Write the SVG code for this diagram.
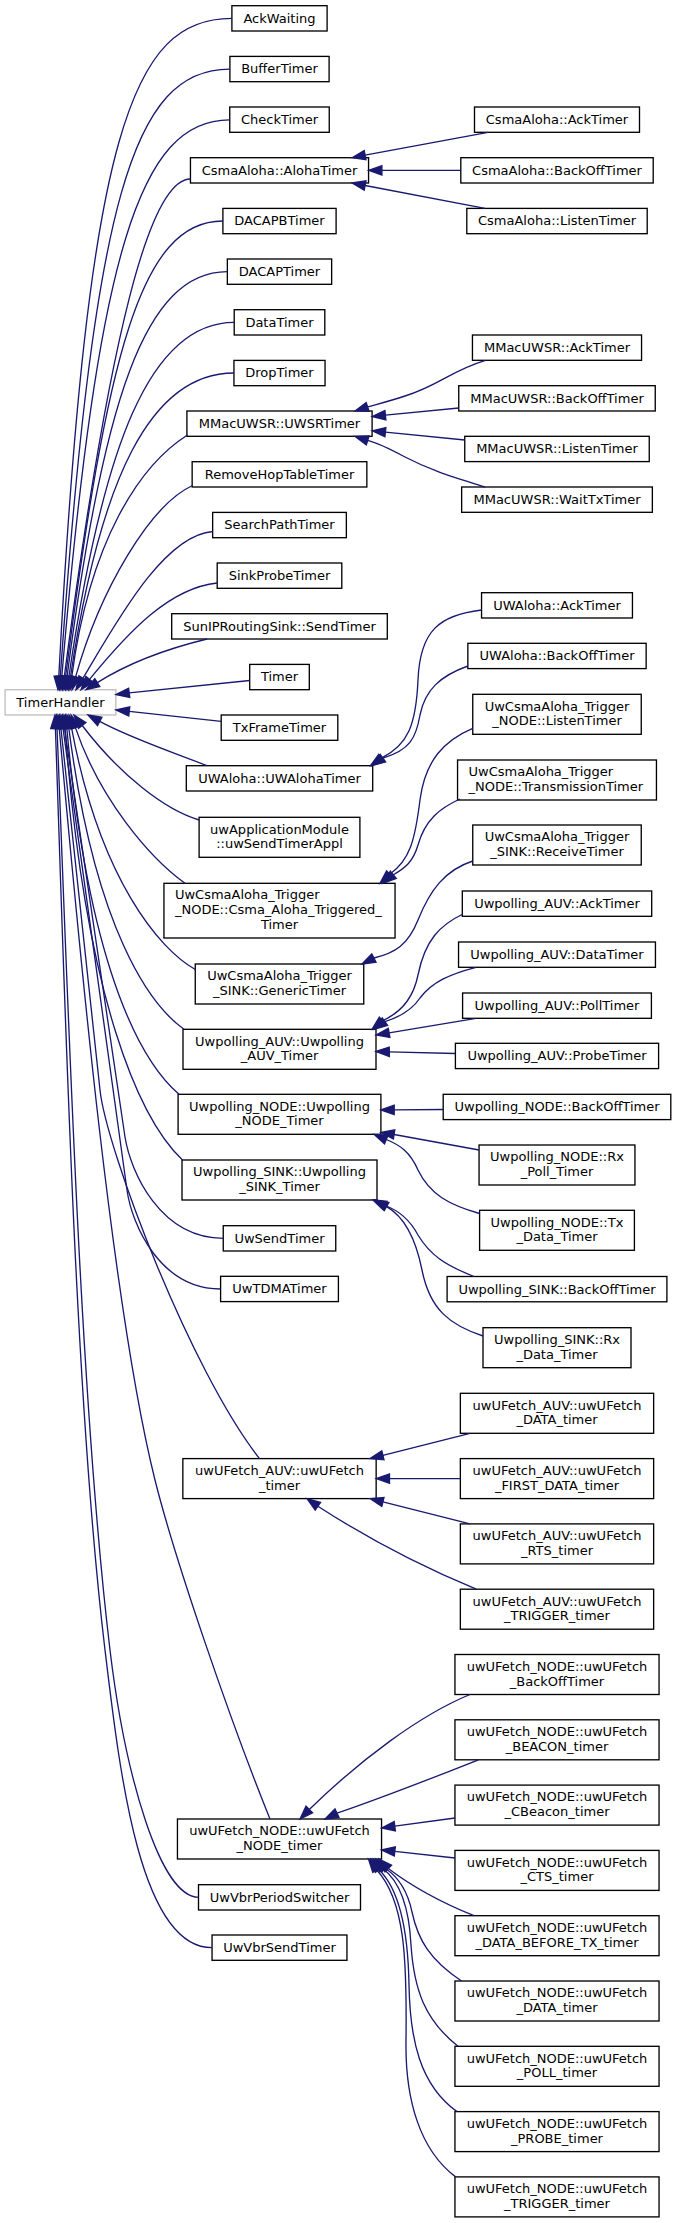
<svg xmlns="http://www.w3.org/2000/svg" width="677" height="2223" viewBox="0 0 677 2223">
<style>
.n rect{fill:#fff;stroke:#000;stroke-width:1.33}
#n_timerhandler rect{stroke:#bfbfbf}
text{font-family:"DejaVu Sans","Liberation Sans",sans-serif;font-size:13px;fill:#000;text-anchor:middle}
text.l{text-anchor:start}
.e path{fill:none;stroke:#191970;stroke-width:1.33}
.e polygon{fill:#191970;stroke:#191970;stroke-width:1.33}
</style>
<rect width="677" height="2223" fill="#fff"/>
<g id="nodes">
<g id="n_timerhandler" class="n"><rect x="5.1" y="689.7" width="110.75" height="25.3"/><text x="60.5" y="706.7">TimerHandler</text></g>
<g id="n_ackwaiting" class="n"><rect x="231.9" y="5.7" width="95.2" height="25.3"/><text x="279.5" y="22.7">AckWaiting</text></g>
<g id="n_buffertimer" class="n"><rect x="229.9" y="56.4" width="99.2" height="25.3"/><text x="279.5" y="73.4">BufferTimer</text></g>
<g id="n_checktimer" class="n"><rect x="229.75" y="107" width="99.5" height="25.3"/><text x="279.5" y="124">CheckTimer</text></g>
<g id="n_alohatimer" class="n"><rect x="190.45" y="157.7" width="178.1" height="25.3"/><text x="279.5" y="174.7">CsmaAloha::AlohaTimer</text></g>
<g id="n_dacapbtimer" class="n"><rect x="222.9" y="208.4" width="113.2" height="25.3"/><text x="279.5" y="225.4">DACAPBTimer</text></g>
<g id="n_dacaptimer" class="n"><rect x="227.35" y="259" width="104.3" height="25.3"/><text x="279.5" y="276">DACAPTimer</text></g>
<g id="n_datatimer" class="n"><rect x="234.2" y="309.7" width="90.6" height="25.3"/><text x="279.5" y="326.7">DataTimer</text></g>
<g id="n_droptimer" class="n"><rect x="233.95" y="360.4" width="91.1" height="25.3"/><text x="279.5" y="377.4">DropTimer</text></g>
<g id="n_uwsrtimer" class="n"><rect x="186.9" y="411" width="185.2" height="25.3"/><text x="279.5" y="428">MMacUWSR::UWSRTimer</text></g>
<g id="n_removehop" class="n"><rect x="192.15" y="461.7" width="174.7" height="25.3"/><text x="279.5" y="478.7">RemoveHopTableTimer</text></g>
<g id="n_searchpath" class="n"><rect x="212.65" y="512.4" width="133.7" height="25.3"/><text x="279.5" y="529.4">SearchPathTimer</text></g>
<g id="n_sinkprobe" class="n"><rect x="217.2" y="563" width="124.6" height="25.3"/><text x="279.5" y="580">SinkProbeTimer</text></g>
<g id="n_sunip" class="n"><rect x="171.7" y="613.7" width="215.6" height="25.3"/><text x="279.5" y="630.7">SunIPRoutingSink::SendTimer</text></g>
<g id="n_timer" class="n"><rect x="249.7" y="664.4" width="59.6" height="25.3"/><text x="279.5" y="681.4">Timer</text></g>
<g id="n_txframe" class="n"><rect x="221.2" y="715" width="116.6" height="25.3"/><text x="279.5" y="732">TxFrameTimer</text></g>
<g id="n_uwaloha" class="n"><rect x="186.3" y="765.7" width="186.4" height="25.3"/><text x="279.5" y="782.7">UWAloha::UWAlohaTimer</text></g>
<g id="n_uwappl" class="n"><rect x="199.1" y="817.3" width="160.8" height="40"/><text x="279.5" y="833.6">uwApplicationModule</text><text x="279.5" y="848.3">::uwSendTimerAppl</text></g>
<g id="n_csmatrig" class="n"><rect x="163.95" y="883.3" width="231.1" height="54.7"/><text class="l" x="174.95" y="899.3">UwCsmaAloha_Trigger</text><text class="l" x="174.95" y="914">_NODE::Csma_Aloha_Triggered_</text><text x="279.5" y="928.7">Timer</text></g>
<g id="n_generic" class="n"><rect x="195.25" y="964" width="168.5" height="40"/><text x="279.5" y="980.3">UwCsmaAloha_Trigger</text><text x="279.5" y="995">_SINK::GenericTimer</text></g>
<g id="n_upauv" class="n"><rect x="183" y="1029.3" width="193" height="40"/><text x="279.5" y="1045.6">Uwpolling_AUV::Uwpolling</text><text x="279.5" y="1060.3">_AUV_Timer</text></g>
<g id="n_upnode" class="n"><rect x="178.1" y="1094.3" width="202.8" height="40"/><text x="279.5" y="1110.6">Uwpolling_NODE::Uwpolling</text><text x="279.5" y="1125.3">_NODE_Timer</text></g>
<g id="n_upsink" class="n"><rect x="182" y="1160" width="195" height="40"/><text x="279.5" y="1176.3">Uwpolling_SINK::Uwpolling</text><text x="279.5" y="1191">_SINK_Timer</text></g>
<g id="n_uwsend" class="n"><rect x="223.25" y="1225.7" width="112.5" height="25.3"/><text x="279.5" y="1242.7">UwSendTimer</text></g>
<g id="n_uwtdma" class="n"><rect x="220.6" y="1276.3" width="117.8" height="25.3"/><text x="279.5" y="1293.3">UwTDMATimer</text></g>
<g id="n_ufauv" class="n"><rect x="182.85" y="1458.6" width="193.3" height="40"/><text x="279.5" y="1474.9">uwUFetch_AUV::uwUFetch</text><text x="279.5" y="1489.6">_timer</text></g>
<g id="n_ufnode" class="n"><rect x="177.45" y="1819" width="204.1" height="40"/><text x="279.5" y="1835.3">uwUFetch_NODE::uwUFetch</text><text x="279.5" y="1850">_NODE_timer</text></g>
<g id="n_vbrperiod" class="n"><rect x="198.5" y="1884.7" width="162" height="25.3"/><text x="279.5" y="1901.7">UwVbrPeriodSwitcher</text></g>
<g id="n_vbrsend" class="n"><rect x="212.05" y="1935" width="134.9" height="25.3"/><text x="279.5" y="1952">UwVbrSendTimer</text></g>

<g id="n_ca_ack" class="n"><rect x="474.5" y="107" width="165" height="25.3"/><text x="557" y="124">CsmaAloha::AckTimer</text></g>
<g id="n_ca_backoff" class="n"><rect x="460.8" y="157.7" width="192.4" height="25.3"/><text x="557" y="174.7">CsmaAloha::BackOffTimer</text></g>
<g id="n_ca_listen" class="n"><rect x="466.8" y="208.4" width="180.4" height="25.3"/><text x="557" y="225.4">CsmaAloha::ListenTimer</text></g>
<g id="n_mm_ack" class="n"><rect x="472.45" y="335" width="169.1" height="25.3"/><text x="557" y="352">MMacUWSR::AckTimer</text></g>
<g id="n_mm_backoff" class="n"><rect x="458.75" y="385.7" width="196.5" height="25.3"/><text x="557" y="402.7">MMacUWSR::BackOffTimer</text></g>
<g id="n_mm_listen" class="n"><rect x="464.75" y="436.3" width="184.5" height="25.3"/><text x="557" y="453.3">MMacUWSR::ListenTimer</text></g>
<g id="n_mm_waittx" class="n"><rect x="461.65" y="487" width="190.7" height="25.3"/><text x="557" y="504">MMacUWSR::WaitTxTimer</text></g>
<g id="n_ua_ack" class="n"><rect x="481.55" y="592.7" width="150.9" height="25.3"/><text x="557" y="609.7">UWAloha::AckTimer</text></g>
<g id="n_ua_backoff" class="n"><rect x="467.85" y="643.3" width="178.3" height="25.3"/><text x="557" y="660.3">UWAloha::BackOffTimer</text></g>
<g id="n_ct_listen" class="n"><rect x="472.75" y="694.3" width="168.5" height="40"/><text x="557" y="710.6">UwCsmaAloha_Trigger</text><text x="557" y="725.3">_NODE::ListenTimer</text></g>
<g id="n_ct_trans" class="n"><rect x="457.55" y="760" width="198.9" height="40"/><text class="l" x="468.55" y="776.3">UwCsmaAloha_Trigger</text><text class="l" x="468.55" y="791">_NODE::TransmissionTimer</text></g>
<g id="n_ct_receive" class="n"><rect x="472.75" y="825" width="168.5" height="40"/><text x="557" y="841.3">UwCsmaAloha_Trigger</text><text x="557" y="856">_SINK::ReceiveTimer</text></g>
<g id="n_pa_ack" class="n"><rect x="462.3" y="891" width="189.4" height="25.3"/><text x="557" y="908">Uwpolling_AUV::AckTimer</text></g>
<g id="n_pa_data" class="n"><rect x="458.55" y="942" width="196.9" height="25.3"/><text x="557" y="959">Uwpolling_AUV::DataTimer</text></g>
<g id="n_pa_poll" class="n"><rect x="462.6" y="993" width="188.8" height="25.3"/><text x="557" y="1010">Uwpolling_AUV::PollTimer</text></g>
<g id="n_pa_probe" class="n"><rect x="455.4" y="1043.3" width="203.2" height="25.3"/><text x="557" y="1060.3">Uwpolling_AUV::ProbeTimer</text></g>
<g id="n_pn_backoff" class="n"><rect x="443.2" y="1094.3" width="227.6" height="25.3"/><text x="557" y="1111.3">Uwpolling_NODE::BackOffTimer</text></g>
<g id="n_pn_rxpoll" class="n"><rect x="479.05" y="1145" width="155.9" height="40"/><text x="557" y="1161.3">Uwpolling_NODE::Rx</text><text x="557" y="1176">_Poll_Timer</text></g>
<g id="n_pn_txdata" class="n"><rect x="479.6" y="1210.3" width="154.8" height="40"/><text x="557" y="1226.6">Uwpolling_NODE::Tx</text><text x="557" y="1241.3">_Data_Timer</text></g>
<g id="n_ps_backoff" class="n"><rect x="447.1" y="1276.5" width="219.8" height="25.3"/><text x="557" y="1293.5">Uwpolling_SINK::BackOffTimer</text></g>
<g id="n_ps_rxdata" class="n"><rect x="483" y="1327.7" width="148" height="40"/><text x="557" y="1344">Uwpolling_SINK::Rx</text><text x="557" y="1358.7">_Data_Timer</text></g>
<g id="n_fa_data" class="n"><rect x="460.35" y="1393.3" width="193.3" height="40"/><text x="557" y="1409.6">uwUFetch_AUV::uwUFetch</text><text x="557" y="1424.3">_DATA_timer</text></g>
<g id="n_fa_first" class="n"><rect x="460.35" y="1458.6" width="193.3" height="40"/><text x="557" y="1474.9">uwUFetch_AUV::uwUFetch</text><text x="557" y="1489.6">_FIRST_DATA_timer</text></g>
<g id="n_fa_rts" class="n"><rect x="460.35" y="1523.9" width="193.3" height="40"/><text x="557" y="1540.2">uwUFetch_AUV::uwUFetch</text><text x="557" y="1554.9">_RTS_timer</text></g>
<g id="n_fa_trigger" class="n"><rect x="460.35" y="1589.2" width="193.3" height="40"/><text x="557" y="1605.5">uwUFetch_AUV::uwUFetch</text><text x="557" y="1620.2">_TRIGGER_timer</text></g>
<g id="n_fn_backoff" class="n"><rect x="454.95" y="1654.5" width="204.1" height="40"/><text x="557" y="1670.8">uwUFetch_NODE::uwUFetch</text><text x="557" y="1685.5">_BackOffTimer</text></g>
<g id="n_fn_beacon" class="n"><rect x="454.95" y="1719.8" width="204.1" height="40"/><text x="557" y="1736.1">uwUFetch_NODE::uwUFetch</text><text x="557" y="1750.8">_BEACON_timer</text></g>
<g id="n_fn_cbeacon" class="n"><rect x="454.95" y="1785.1" width="204.1" height="40"/><text x="557" y="1801.4">uwUFetch_NODE::uwUFetch</text><text x="557" y="1816.1">_CBeacon_timer</text></g>
<g id="n_fn_cts" class="n"><rect x="454.95" y="1850.4" width="204.1" height="40"/><text x="557" y="1866.7">uwUFetch_NODE::uwUFetch</text><text x="557" y="1881.4">_CTS_timer</text></g>
<g id="n_fn_databtx" class="n"><rect x="454.95" y="1915.7" width="204.1" height="40"/><text x="557" y="1932">uwUFetch_NODE::uwUFetch</text><text x="557" y="1946.7">_DATA_BEFORE_TX_timer</text></g>
<g id="n_fn_data" class="n"><rect x="454.95" y="1981" width="204.1" height="40"/><text x="557" y="1997.3">uwUFetch_NODE::uwUFetch</text><text x="557" y="2012">_DATA_timer</text></g>
<g id="n_fn_poll" class="n"><rect x="454.95" y="2046.3" width="204.1" height="40"/><text x="557" y="2062.6">uwUFetch_NODE::uwUFetch</text><text x="557" y="2077.3">_POLL_timer</text></g>
<g id="n_fn_probe" class="n"><rect x="454.95" y="2111.6" width="204.1" height="40"/><text x="557" y="2127.9">uwUFetch_NODE::uwUFetch</text><text x="557" y="2142.6">_PROBE_timer</text></g>
<g id="n_fn_trigger" class="n"><rect x="454.95" y="2176.9" width="204.1" height="40"/><text x="557" y="2193.2">uwUFetch_NODE::uwUFetch</text><text x="557" y="2207.9">_TRIGGER_timer</text></g>
</g>
<g id="edges" class="e">
<path d="M232,18.4 C132,18.4 88,130 58.8,676.4"/><polygon points="58,689.7 54.1,676.1 63.5,676.7"/>
<path d="M229.9,69.1 C132,69.1 94,200 60.3,676.4"/><polygon points="59.5,689.7 55.6,676.1 65,676.7"/>
<path d="M229.8,119.8 C140,119.8 98,250 61.8,676.4"/><polygon points="61,689.7 57.1,676.1 66.5,676.7"/>
<path d="M190.5,179 C150,179 110,330 64.3,676.5"/><polygon points="62.5,689.7 59.7,675.9 68.9,677.1"/>
<path d="M222.9,221 C140,221 107,355 65.6,676.5"/><polygon points="64,689.7 61,675.9 70.2,677.1"/>
<path d="M227.4,271.7 C145,271.7 103,400 67.1,676.5"/><polygon points="65.5,689.7 62.5,675.9 71.7,677.1"/>
<path d="M234.2,322.3 C150,322.3 103,445 68.9,676.5"/><polygon points="67,689.7 64.3,675.8 73.5,677.2"/>
<path d="M234,373 C150,373 100,480 70.5,676.5"/><polygon points="68.5,689.7 65.9,675.8 75.1,677.2"/>
<path d="M187.5,435 C140,465 90,540 71.8,676.5"/><polygon points="70,689.7 67.2,675.9 76.4,677.1"/>
<path d="M192.5,485.5 C150,505 100,590 75.6,676.9"/><polygon points="72,689.7 71.1,675.6 80.1,678.2"/>
<path d="M213,531.5 C163,535 115,625 82.9,678.3"/><polygon points="76,689.7 78.9,675.9 86.9,680.7"/>
<path d="M217.2,583 C170,588 130,630 89.5,679.4"/><polygon points="81,689.7 85.9,676.4 93.1,682.4"/>
<path d="M207,639 C170,648 130,662 97.3,682.6"/><polygon points="86,689.7 94.8,678.6 99.8,686.6"/>
<path d="M249.7,680.5 L129.2,692.8"/><polygon points="116,694.5 129.8,697.4 128.6,688.2"/>
<path d="M221.2,721.3 L129.25,711.4"/><polygon points="116,710 129.75,706.8 128.75,716"/>
<path d="M207,765.7 C175,753 130,738 99.7,721.4"/><polygon points="88,715 101.9,717.3 97.5,725.5"/>
<path d="M199.1,820 C165,810 120,775 82.2,725.5"/><polygon points="74,715 85.9,722.6 78.5,728.4"/>
<path d="M185,883.3 C150,858 100,800 75.4,727.6"/><polygon points="71,715 79.8,726 71,729.2"/>
<path d="M195.3,969.5 C160,950 100,880 71.6,728.1"/><polygon points="69,715 76.2,727.2 67,729"/>
<path d="M184,1029.3 C150,1005 95,930 68.8,728.2"/><polygon points="67,715 73.4,727.6 64.2,728.8"/>
<path d="M179,1094.3 C145,1065 90,980 66.8,728.3"/><polygon points="65.5,715 71.4,727.8 62.2,728.8"/>
<path d="M182.5,1160 C140,1120 85,1000 65.1,728.3"/><polygon points="64,715 69.8,727.9 60.4,728.7"/>
<path d="M64.5,728.2 L125,1137 C130.5,1171.6 160,1238.3 223.3,1238.3"/><polygon points="62.5,715 69.1,727.5 59.9,728.9"/>
<path d="M63,728.2 L127,1190 C131.8,1224.7 160,1289 220.6,1289"/><polygon points="61,715 67.6,727.5 58.4,728.9"/>
<path d="M60.9,728.3 L100,1090 C106.4,1149.6 190,1370 259.5,1458.6"/><polygon points="59.5,715 65.5,727.8 56.3,728.8"/>
<path d="M59.2,728.3 C75,900 110,1300 155,1480 C175,1560 230,1720 270,1819"/><polygon points="58,715 63.9,727.9 54.5,728.7"/>
<path d="M57,728.3 C68,1000 80,1400 110,1650 C125,1775 160,1897.3 198.5,1897.3"/><polygon points="56.5,715 61.7,728.1 52.3,728.5"/>
<path d="M55.4,728.3 C65,1000 75,1400 105,1650 C120,1775 140,1947.7 212,1947.7"/><polygon points="55,715 60.1,728.1 50.7,728.5"/>

<path d="M488,132.3 L365.1,155.2"/><polygon points="352,157.7 364.2,150.6 366,159.8"/>
<path d="M460.8,170.35 L381.9,170.35"/><polygon points="368.55,170.35 381.9,165.7 381.9,175"/>
<path d="M485,208.4 L365.1,185.5"/><polygon points="352,183 366,180.9 364.2,190.1"/>

<path d="M485.5,360.3 C450,371 440,385 405,396 C390,401 378,404 367.7,406.9"/><polygon points="355,411 366.2,402.5 369.1,411.3"/>
<path d="M458.75,408 L385.4,415.2"/><polygon points="372.1,416.5 384.9,410.6 385.9,419.8"/>
<path d="M464.75,440 L385.4,432.1"/><polygon points="372.1,430.8 385.9,427.5 384.9,436.7"/>
<path d="M485,487 C450,476 430,470 405,457 C390,449 378,443 367.7,440.4"/><polygon points="355,436.3 369.1,436 366.3,444.8"/>

<path d="M481.55,610 C440,615 420,630 418,680 C416,725 408,745 381.4,758.1"/><polygon points="370.5,765.7 378.7,754.3 384.1,761.9"/>
<path d="M467.85,666 C440,676 425,690 420,715 C416,738 410,750 382.9,758.1"/><polygon points="372,765.7 380.2,754.3 385.6,761.9"/>

<path d="M472.75,728.3 C445,740 425,760 420,800 C415,840 410,860 389.8,874.2"/><polygon points="380,883.3 386.6,870.8 393,877.6"/>
<path d="M460,799 C440,808 425,820 418,845 C413,862 405,868 393.3,874.8"/><polygon points="383,883.3 390.3,871.2 396.3,878.4"/>

<path d="M472.75,861 C445,870 430,890 418,920 C408,945 395,953 373.9,958"/><polygon points="362,964 371.8,953.9 376,962.2"/>

<path d="M463,914 C440,925 425,940 418,975 C413,1000 400,1013 382.3,1020.8"/><polygon points="372,1029.3 379.3,1017.2 385.3,1024.4"/>
<path d="M476,967.3 C450,974 432,982 420,998 C412,1010 400,1017 384.9,1021.6"/><polygon points="374,1029.3 382.2,1017.8 387.6,1025.4"/>
<path d="M476,1018.3 L389.1,1032.8"/><polygon points="376,1035 388.3,1028.2 389.9,1037.4"/>
<path d="M455.4,1053.5 L389.3,1051.8"/><polygon points="376,1051.5 389.2,1047.1 389.4,1056.5"/>

<path d="M443.2,1109.5 L394.2,1109.9"/><polygon points="380.9,1110 394.2,1105.2 394.2,1114.6"/>
<path d="M479.05,1150 L394.1,1134.5"/><polygon points="380.9,1132.5 394.8,1129.9 393.4,1139.1"/>
<path d="M479.6,1213.5 C450,1205 430,1195 418,1170 C410,1152 400,1145 386.3,1139.5"/><polygon points="374,1134.3 388.1,1135.2 384.5,1143.8"/>

<path d="M474,1276.5 C445,1265 430,1255 418,1235 C410,1220 400,1211 385.1,1205.5"/><polygon points="373,1200 387,1201.3 383.2,1209.8"/>
<path d="M483,1336 C450,1325 430,1310 422,1270 C416,1240 405,1217 386.6,1206.6"/><polygon points="375,1200 388.9,1202.5 384.3,1210.7"/>

<path d="M470,1433.3 L382.9,1455.3"/><polygon points="370,1458.6 381.8,1450.8 384,1459.8"/>
<path d="M460.35,1478.6 L389.5,1478.6"/><polygon points="376.15,1478.6 389.5,1473.9 389.5,1483.3"/>
<path d="M470,1523.9 L382.9,1501.9"/><polygon points="370,1498.6 384,1497.4 381.8,1506.4"/>
<path d="M476.3,1589.2 C430,1570 370,1540 317.9,1506.2"/><polygon points="307,1498.6 320.6,1502.4 315.2,1510"/>

<path d="M470,1694.5 C420,1715 360,1760 309.3,1809.5"/><polygon points="300,1819 306,1806.2 312.6,1812.8"/>
<path d="M478.4,1759.8 C440,1775 390,1795 337,1813.2"/><polygon points="325,1819 335,1809 339,1817.4"/>
<path d="M454.95,1818 L394.8,1826.2"/><polygon points="381.55,1828 394.2,1821.6 395.4,1830.8"/>
<path d="M454.95,1858 L394.8,1851.4"/><polygon points="381.55,1850 395.3,1846.8 394.3,1856"/>
<path d="M474,1915.7 C440,1902 410,1885 388.3,1868.5"/><polygon points="379,1859 391.6,1865.2 385,1871.8"/>
<path d="M461.5,1981 C430,1960 418,1940 412,1912 C408,1893 400,1878 385.3,1868.5"/><polygon points="376,1859 388.6,1865.2 382,1871.8"/>
<path d="M458,2046.3 C425,2020 414,1990 411,1945 C409,1905 398,1880 382.8,1868.5"/><polygon points="373.5,1859 386.1,1865.2 379.5,1871.8"/>
<path d="M457,2111.6 C420,2085 410,2040 409,1985 C408,1925 398,1888 379,1869.7"/><polygon points="371,1859 382.7,1866.9 375.3,1872.5"/>
<path d="M455.6,2176.9 C420,2150 405,2100 406,2040 C407,1960 405,1900 376.5,1869.7"/><polygon points="368.5,1859 380.2,1866.9 372.8,1872.5"/>
</g>
</svg>
